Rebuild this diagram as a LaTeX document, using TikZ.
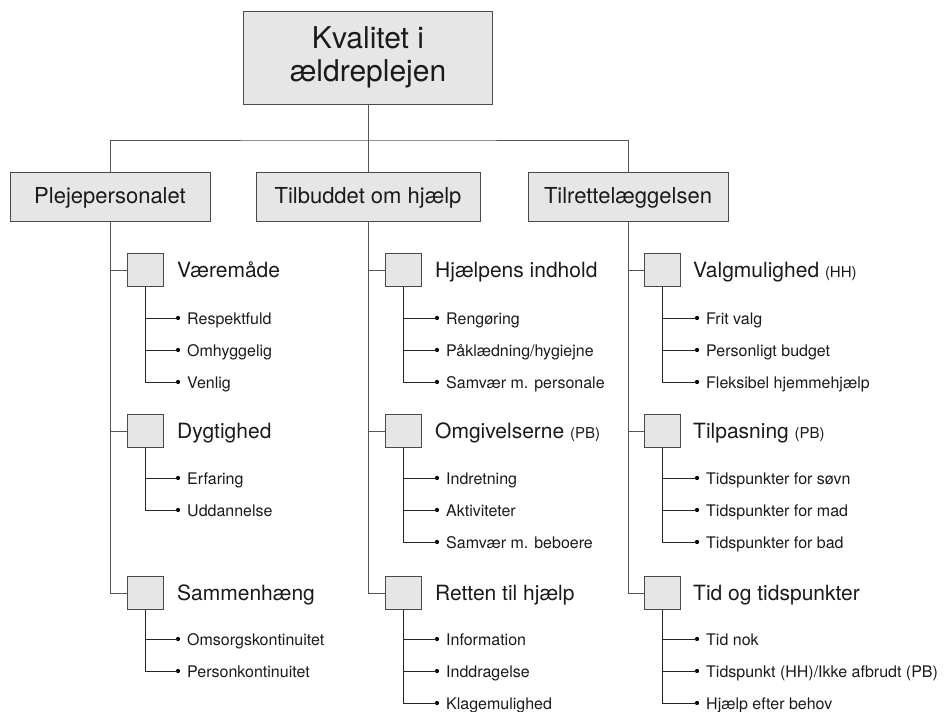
\documentclass[tikz,border=0pt]{standalone}
\usepackage{fontspec}
\setmainfont{TeX Gyre Heros}
\definecolor{boxfill}{HTML}{E6E6E6}
\definecolor{boxline}{HTML}{4A4A4A}
\definecolor{lineg}{HTML}{555555}
\definecolor{txt}{HTML}{1A1A1A}
\newcommand\myleaf[4]{\node[dot] (#1) at (#2,#3) {}; \node[leaf] (#1t) at (#2+9,#3+6) {#4};}
\begin{document}
\begin{tikzpicture}[x=1pt,y=-1pt,
  box/.style={draw=boxline, fill=boxfill, line width=0.9pt, inner sep=0pt, text=txt},
  topbox/.style={box, minimum width=249pt, minimum height=93pt, font=\fontsize{30}{33.5}\selectfont, align=center},
  catbox/.style={box, minimum height=48.5pt, font=\fontsize{22}{26}\selectfont, text height=14pt, text depth=1.6pt},
  grpbox/.style={box, minimum width=36pt, minimum height=33pt},
  hdr/.style={anchor=base west, inner sep=0pt, text=txt, font=\fontsize{21}{25}\selectfont},
  leaf/.style={anchor=base west, inner sep=0pt, text=txt, font=\fontsize{16}{19}\selectfont},
  dot/.style={circle, fill=black, inner sep=0pt, minimum size=4.2pt},
  trunk/.style={draw=lineg, line width=0.9pt},
  twig/.style={draw=black!85, line width=1pt}]
\useasboundingbox (0,0) rectangle (946,712);
% top
\node[topbox] (top) at (368,57.5) {Kvalitet i\\ældreplejen};
% categories
\node[catbox, minimum width=200pt] (c1) at (110,196.8) {Plejepersonalet};
\node[catbox, minimum width=224pt] (c2) at (368,196.8) {Tilbuddet om hjælp};
\node[catbox, minimum width=200pt] (c3) at (628,196.8) {Tilrettelæggelsen};
\coordinate (bus) at (368,140);
\draw[trunk] (top.south) -- (c2.north);
\draw[trunk] (c1.north) |- (bus) -| (c3.north);
% column 1
\node[grpbox] (g11) at (145,270) {};
\node[hdr] (g11t) at (177,277) {Væremåde};
\node[grpbox] (g12) at (145,431) {};
\node[hdr] (g12t) at (177,438) {Dygtighed};
\node[grpbox] (g13) at (145,593) {};
\node[hdr] (g13t) at (177,600) {Sammenhæng};
\myleaf{a1}{178}{318}{Respektfuld}
\myleaf{a2}{178}{350}{Omhyggelig}
\myleaf{a3}{178}{382}{Venlig}
\myleaf{b1}{178}{478}{Erfaring}
\myleaf{b2}{178}{510}{Uddannelse}
\myleaf{e1}{178}{639}{Omsorgskontinuitet}
\myleaf{e2}{178}{671}{Personkontinuitet}
% column 2
\node[grpbox] (g21) at (403,270) {};
\node[hdr] (g21t) at (435,277) {Hjælpens indhold};
\node[grpbox] (g22) at (403,431) {};
\node[hdr] (g22t) at (435,438) {Omgivelserne {\fontsize{15}{18}\selectfont (PB)}};
\node[grpbox] (g23) at (403,593) {};
\node[hdr] (g23t) at (435,600) {Retten til hjælp};
\myleaf{f1}{437}{318}{Rengøring}
\myleaf{f2}{437}{350}{Påklædning/hygiejne}
\myleaf{f3}{437}{382}{Samvær m. personale}
\myleaf{h1}{437}{478}{Indretning}
\myleaf{h2}{437}{510}{Aktiviteter}
\myleaf{h3}{437}{542}{Samvær m. beboere}
\myleaf{k1}{437}{639}{Information}
\myleaf{k2}{437}{671}{Inddragelse}
\myleaf{k3}{437}{703}{Klagemulighed}
% column 3
\node[grpbox] (g31) at (662,270) {};
\node[hdr] (g31t) at (693,277) {Valgmulighed {\fontsize{15}{18}\selectfont (HH)}};
\node[grpbox] (g32) at (662,431) {};
\node[hdr] (g32t) at (693,438) {Tilpasning {\fontsize{15}{18}\selectfont (PB)}};
\node[grpbox] (g33) at (662,593) {};
\node[hdr] (g33t) at (693,600) {Tid og tidspunkter};
\myleaf{m1}{697}{318}{Frit valg}
\myleaf{m2}{697}{350}{Personligt budget}
\myleaf{m3}{697}{382}{Fleksibel hjemmehjælp}
\myleaf{n1}{697}{478}{Tidspunkter for søvn}
\myleaf{n2}{697}{510}{Tidspunkter for mad}
\myleaf{n3}{697}{542}{Tidspunkter for bad}
\myleaf{p1}{697}{639}{Tid nok}
\myleaf{p2}{697}{671}{Tidspunkt (HH)/Ikke afbrudt (PB)}
\myleaf{p3}{697}{703}{Hjælp efter behov}
% trunks
\draw[trunk] (c1.south) |- (g13.west);
\draw[trunk] (c1.south |- g11.west) -- (g11.west);
\draw[trunk] (c1.south |- g12.west) -- (g12.west);
\draw[trunk] (c2.south) |- (g23.west);
\draw[trunk] (c2.south |- g21.west) -- (g21.west);
\draw[trunk] (c2.south |- g22.west) -- (g22.west);
\draw[trunk] (c3.south) |- (g33.west);
\draw[trunk] (c3.south |- g31.west) -- (g31.west);
\draw[trunk] (c3.south |- g32.west) -- (g32.west);
% twigs
\draw[twig] (g11.south) |- (a3.center);
\draw[twig] (g11.south |- a1) -- (a1.center);
\draw[twig] (g11.south |- a2) -- (a2.center);
\draw[twig] (g12.south) |- (b2.center);
\draw[twig] (g12.south |- b1) -- (b1.center);
\draw[twig] (g13.south) |- (e2.center);
\draw[twig] (g13.south |- e1) -- (e1.center);
\draw[twig] (g21.south) |- (f3.center);
\draw[twig] (g21.south |- f1) -- (f1.center);
\draw[twig] (g21.south |- f2) -- (f2.center);
\draw[twig] (g22.south) |- (h3.center);
\draw[twig] (g22.south |- h1) -- (h1.center);
\draw[twig] (g22.south |- h2) -- (h2.center);
\draw[twig] (g23.south) |- (k3.center);
\draw[twig] (g23.south |- k1) -- (k1.center);
\draw[twig] (g23.south |- k2) -- (k2.center);
\draw[twig] (g31.south) |- (m3.center);
\draw[twig] (g31.south |- m1) -- (m1.center);
\draw[twig] (g31.south |- m2) -- (m2.center);
\draw[twig] (g32.south) |- (n3.center);
\draw[twig] (g32.south |- n1) -- (n1.center);
\draw[twig] (g32.south |- n2) -- (n2.center);
\draw[twig] (g33.south) |- (p3.center);
\draw[twig] (g33.south |- p1) -- (p1.center);
\draw[twig] (g33.south |- p2) -- (p2.center);
\end{tikzpicture}
\end{document}
